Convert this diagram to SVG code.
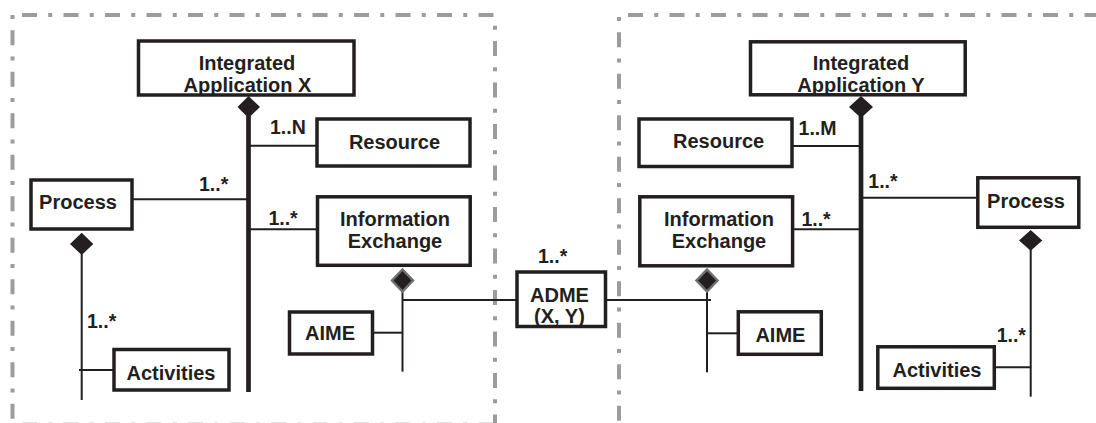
<svg xmlns="http://www.w3.org/2000/svg" width="1096" height="423" viewBox="0 0 1096 423">
<style>
.box{fill:#fff;stroke:#231f20;stroke-width:3.5}
.t{font-family:"Liberation Sans",Arial,sans-serif;font-weight:bold;font-size:20px;fill:#231f20;text-anchor:middle}
.m{font-family:"Liberation Sans",Arial,sans-serif;font-weight:bold;font-size:19.5px;fill:#231f20}
.ln{stroke:#231f20;stroke-width:2;fill:none}
.thick{stroke:#231f20;stroke-width:4.7;fill:none}
.fr{stroke:#9c9c9c;stroke-width:4;fill:none}
.fa{stroke-dasharray:15 11.25 4 11.25}
.fb{stroke-dasharray:4 11.25 15 11.25}
.dia{fill:#231f20}
.diag{fill:#231f20;stroke:#707070;stroke-width:2.5}
</style>
<rect width="1096" height="423" fill="#fff"/>
<g id="frames">
<path class="fr fa" d="M22,15 H495"/>
<path class="fr fb" d="M12.5,15 V423"/>
<path class="fr fb" d="M495,25.75 V423"/>
<path class="fr fa" d="M22,424.5 H495" style="stroke:#c4c4c4"/>
<path class="fr fa" d="M628,15 H1096"/>
<path class="fr fb" d="M619,17 V423"/>
</g>
<g id="connectors">
<path class="thick" d="M248.5,116 V392"/>
<path class="thick" d="M861,116 V391"/>
<path class="ln" d="M248.5,145.7 H317"/>
<path class="ln" d="M132,199.3 H248.5"/>
<path class="ln" d="M248.5,229.3 H317.5"/>
<path class="ln" d="M792,146 H861"/>
<path class="ln" d="M792.6,229.3 H861"/>
<path class="ln" d="M861,197.7 H977.8"/>
<path class="ln" d="M81.7,254 V400"/>
<path class="ln" d="M79,370 H114"/>
<path class="ln" d="M1030.7,250 V396.7"/>
<path class="ln" d="M994,367.3 H1030.7"/>
<path class="ln" d="M402.5,291 V371.7"/>
<path class="ln" d="M372.5,332.7 H402.5"/>
<path class="ln" d="M402.5,300 H517"/>
<path class="ln" d="M605.5,300 H711"/>
<path class="ln" d="M707,290 V372.3"/>
<path class="ln" d="M707,333.3 H738.3"/>
<polygon class="dia" points="248.5,96 260,107 248.5,118 237.5,107"/>
<polygon class="dia" points="861,96 873,107 861,118 849,107"/>
<polygon class="dia" points="81.7,232.7 93.3,244 81.7,255 70,244"/>
<polygon class="dia" points="1030.7,230 1042.3,240.5 1030.7,250.7 1019,240.5"/>
<polygon class="diag" points="402.5,269.5 413,280.5 402.5,291.5 392,280.5"/>
<polygon class="diag" points="707,269.5 717.5,280.5 707,291.5 696.5,280.5"/>
<text class="m" x="270" y="134">1..N</text>
<text class="m" x="199" y="190.7">1..*</text>
<text class="m" x="268.4" y="225">1..*</text>
<text class="m" x="87" y="327.7">1..*</text>
<text class="m" x="538" y="263">1..*</text>
<text class="m" x="798.6" y="135">1..M</text>
<text class="m" x="868.3" y="187.7">1..*</text>
<text class="m" x="801.4" y="226">1..*</text>
<text class="m" x="996.7" y="341.7">1..*</text>
</g>
<g id="integrated-x">
<rect class="box" x="138.5" y="41" width="215.5" height="54"/>
<text class="t" x="247" y="70">Integrated</text>
<text class="t" x="247.5" y="92">Application X</text>
</g>
<g id="resource-x">
<rect class="box" x="317" y="119" width="153" height="47"/>
<text class="t" x="394.5" y="148.5">Resource</text>
</g>
<g id="process-x">
<rect class="box" x="31" y="180" width="101" height="49"/>
<text class="t" x="78" y="209.3">Process</text>
</g>
<g id="info-exchange-x">
<rect class="box" x="317.5" y="196.8" width="152.7" height="68.5"/>
<text class="t" x="395" y="226">Information</text>
<text class="t" x="395" y="248">Exchange</text>
</g>
<g id="aime-x">
<rect class="box" x="289.5" y="312" width="83" height="42"/>
<text class="t" x="330" y="340">AIME</text>
</g>
<g id="activities-x">
<rect class="box" x="114" y="349.5" width="115" height="40.5"/>
<text class="t" x="171" y="380">Activities</text>
</g>
<g id="adme">
<rect class="box" x="517" y="272" width="88.5" height="54.5"/>
<text class="t" x="559.5" y="301.7">ADME</text>
<text class="t" x="559.5" y="323">(X, Y)</text>
</g>
<g id="integrated-y">
<rect class="box" x="750.5" y="41.8" width="214.7" height="53"/>
<text class="t" x="861" y="70">Integrated</text>
<text class="t" x="861" y="92">Application Y</text>
</g>
<g id="resource-y">
<rect class="box" x="639" y="119" width="153" height="47.5"/>
<text class="t" x="718.6" y="148.3">Resource</text>
</g>
<g id="info-exchange-y">
<rect class="box" x="639.8" y="196.8" width="152.8" height="69"/>
<text class="t" x="719" y="226">Information</text>
<text class="t" x="719" y="247.7">Exchange</text>
</g>
<g id="aime-y">
<rect class="box" x="738.3" y="311.8" width="83" height="42.5"/>
<text class="t" x="780.4" y="341.7">AIME</text>
</g>
<g id="process-y">
<rect class="box" x="977.8" y="177.8" width="101" height="49.5"/>
<text class="t" x="1026" y="208.3">Process</text>
</g>
<g id="activities-y">
<rect class="box" x="877.8" y="346.8" width="116.5" height="41.5"/>
<text class="t" x="937" y="376.7">Activities</text>
</g>
</svg>
